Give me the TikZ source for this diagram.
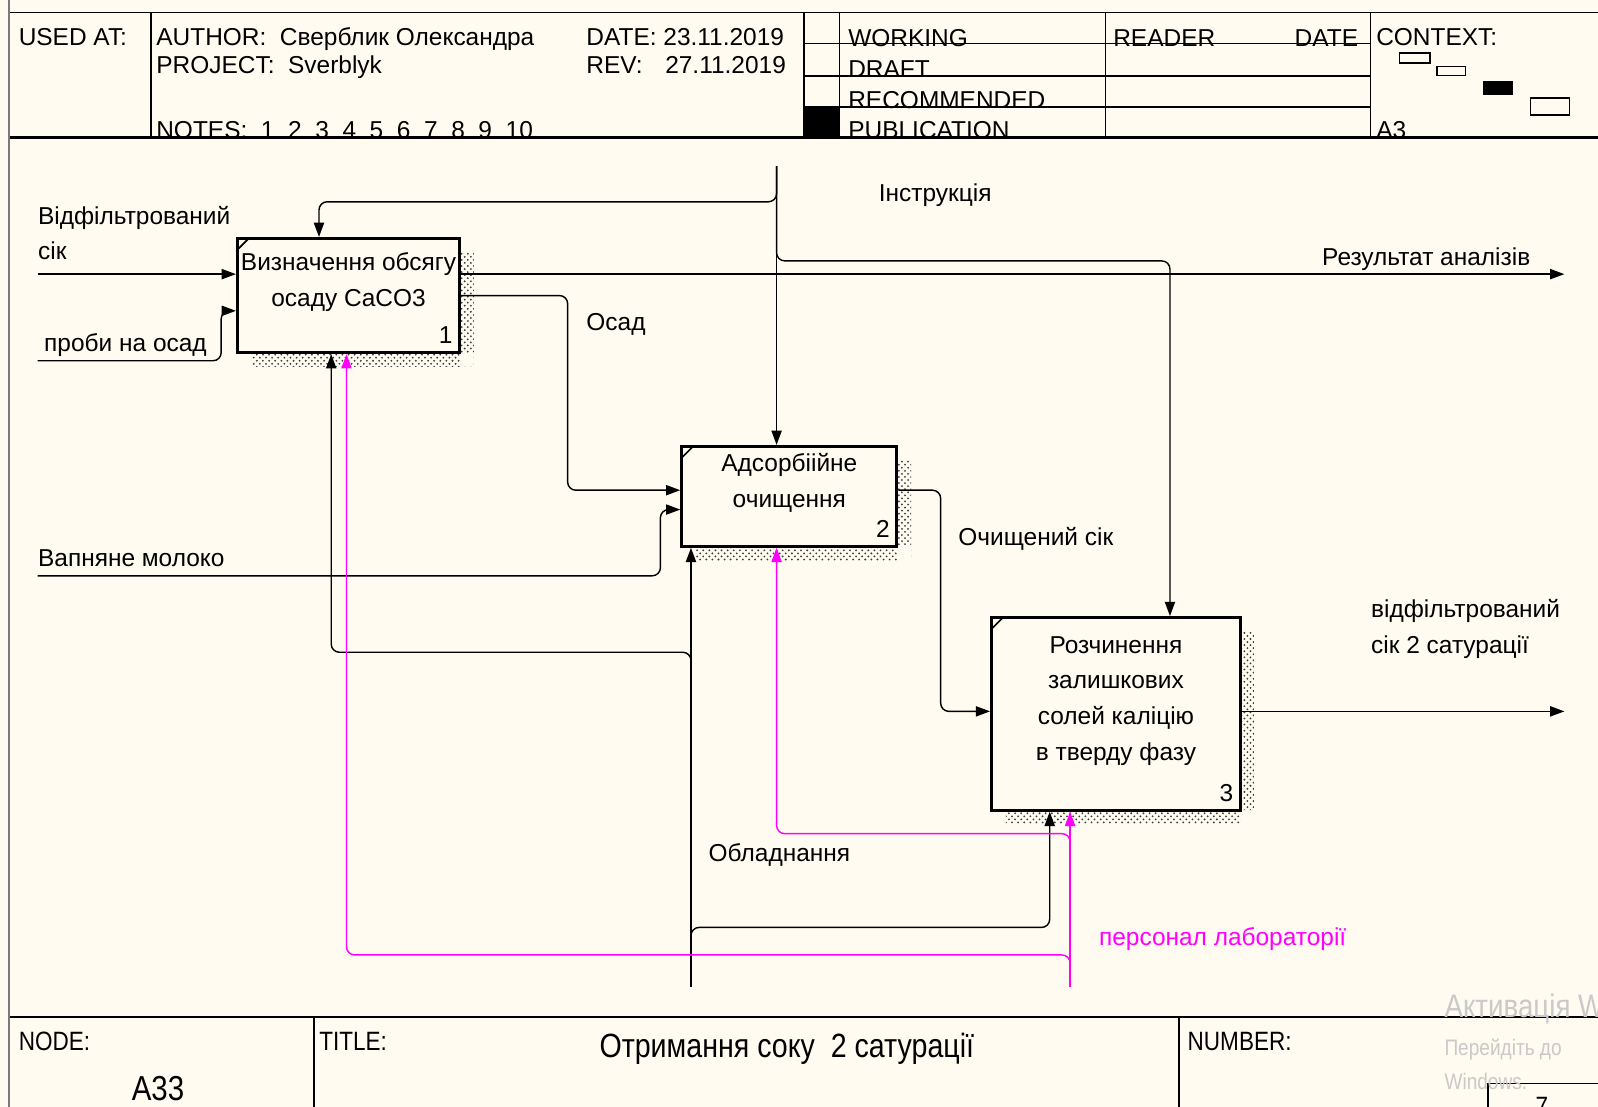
\documentclass[tikz,border=0pt]{standalone}
\usepackage{fontspec}
\setmainfont{Liberation Sans}
\newfontfamily\narrowfont[FakeStretch=0.85]{Liberation Sans}
\usepackage{xcolor}
\definecolor{cPaper}{HTML}{FFFBF0}
\definecolor{cPers}{HTML}{FF00FF}
\definecolor{cShade}{HTML}{3C3C3C}
\definecolor{cFaint}{HTML}{C9C9C9}
\definecolor{cEdge}{HTML}{7A7A7A}
\usetikzlibrary{positioning,arrows.meta,calc,patterns}
\tikzset{
  node-box/.style={draw=black,line width=1.5pt,fill=cPaper,inner sep=0pt},
  node-text/.style={align=center,font=\fontsize{12}{17.5}\selectfont,inner sep=0pt},
  node-num/.style={font=\fontsize{12}{14}\selectfont,anchor=base east,inner sep=0pt},
  lbl/.style={font=\fontsize{12}{17.5}\selectfont,inner sep=0pt,align=left,anchor=base west},
  hdr/.style={font=\fontsize{12}{13.5}\selectfont,inner sep=0pt,anchor=base west},
  ftr/.style={font=\narrowfont\fontsize{13}{15}\selectfont,inner sep=0pt,anchor=base west},
  arrow/.style={-{Triangle[length=7pt,width=5pt]},line width=0.7pt,rounded corners=4pt},
  arrow-pers/.style={arrow,draw=cPers},
  shade/.style={pattern=crosshatch dots,pattern color=cShade},
  frame/.style={line width=0.7pt},
}

\begin{document}
\begin{tikzpicture}[x=0.5pt,y=-0.5pt]
  \useasboundingbox[fill=cPaper] (0,0) rectangle (1568,1086);
  % sheet frame
  \draw[line width=1.2pt,draw=cEdge] (9,0) -- (9,1086);
  \draw[frame] (10,12.5) -- (1568,12.5);
  \draw[line width=1.1pt] (10,135) -- (1568,135);
  \foreach \x in {148,789,824,1085,1345}
    \draw[frame] (\x,12.5) -- (\x,135);
  \foreach \y in {42.5,74.5,105}
    \draw[frame] (789,\y) -- (1345,\y);
  \fill (789,105) rectangle (824,135);
  % header texts
  \node[hdr] (usedat) at (18,45) {USED AT:};
  \node[hdr] (author) at (153,45) {AUTHOR:~~Сверблик Олександра};
  \node[hdr] (project) at (153,72) {PROJECT:~~Sverblyk};
  \node[hdr] (notes) at (153,136) {NOTES:~~1~~2~~3~~4~~5~~6~~7~~8~~9~~10};
  \node[hdr] (date) at (575,45) {DATE: 23.11.2019};
  \node[hdr] (rev) at (575,72) {\makebox[38.7pt][l]{REV:}27.11.2019};
  \node[hdr] (working) at (832,46) {WORKING};
  \node[hdr] (draft) at (832,76) {DRAFT};
  \node[hdr] (recom) at (832,106) {RECOMMENDED};
  \node[hdr] (public) at (832,136) {PUBLICATION};
  \node[hdr] (reader) at (1092,46) {READER};
  \node[hdr,anchor=base east] (rdate) at (1333,46) {DATE};
  \node[hdr] (context) at (1350,45) {CONTEXT:};
  \node[hdr] (sheet) at (1350,136) {A3};
  % context thumbnail
  \draw[frame] (1373,52) rectangle (1403,62);
  \draw[frame] (1410,65) rectangle (1438,74);
  \fill (1455,79) rectangle (1485,93);
  \draw[frame] (1502,96) rectangle (1540,113);

  % activity boxes with shadows
  \fill[shade] (465,248) rectangle (451,360) (247,346) rectangle (465,360);
  \fill[shade] (894,452) rectangle (880,550) (683,536) rectangle (894,550);
  \fill[shade] (1231,620) rectangle (1217,809) (987,795) rectangle (1231,809);
  \node[node-box,minimum width=109pt,minimum height=56pt] (b1) at (342,290) {};
  \node[node-box,minimum width=105.5pt,minimum height=49pt] (b2) at (774.5,487) {};
  \node[node-box,minimum width=122pt,minimum height=94.5pt] (b3) at (1095,700.5) {};
  \foreach \b in {b1,b2,b3}
    \draw[line width=0.8pt] ($(\b.north west)+(1,13)$) -- ++(12,-12);
  \node[node-text] (b1t) at ($(b1.center)+(0,-13)$) {Визначення обсягу\\осаду CaCO3};
  \node[node-text] (b2t) at ($(b2.center)+(0,-13)$) {Адсорбіійне\\очищення};
  \node[node-text] (b3t) at ($(b3.center)+(0,-13)$) {Розчинення\\залишкових\\солей каліцію\\в тверду фазу};
  \node[node-num] (b1n) at ($(b1.south east)+(-8,-10)$) {1};
  \node[node-num] (b2n) at ($(b2.south east)+(-8,-10)$) {2};
  \node[node-num] (b3n) at ($(b3.south east)+(-8,-10)$) {3};

  % free ends and bends
  \coordinate (in1) at (37,269);
  \coordinate (in2) at (37,354);
  \coordinate (in2b) at (217,305);
  \coordinate (lime) at (37,565);
  \coordinate (limeb) at (648,500);
  \coordinate (ins) at (762,163);
  \coordinate (ctl1) at (313,198);
  \coordinate (ctl3) at (1148,256);
  \coordinate (out1) at (1535,269);
  \coordinate (osadb) at (557,481);
  \coordinate (cleanb) at (923,698);
  \coordinate (out2) at (1535,698);
  \coordinate (mech) at (678,968);
  \coordinate (mc1) at (325,640);
  \coordinate (mc3) at (1030,910);
  \coordinate (pers) at (1050,968);
  \coordinate (pc1) at (340,937);
  \coordinate (pc2) at (762,818);

  % inputs and outputs
  \draw[arrow] (in1) -- (in1 -| b1.west);
  \draw[arrow] (in2) -| (in2b) -- (in2b -| b1.west);
  \draw[arrow] (b1.east) -| (osadb) -- (osadb -| b2.west);
  \draw[arrow] (lime) -| (limeb) -- (limeb -| b2.west);
  \draw[arrow] ($(b2.east)+(0,-6)$) -| (cleanb) -- (cleanb -| b3.west);
  \draw[arrow] (out1 -| b1.east) -- (out1);
  \draw[arrow] (cleanb -| b3.east) -- (out2);
  % controls
  \draw[arrow] (ins) -- (ins |- b2.north);
  \draw[arrow] (ins) |- (ctl1) -- (ctl1 |- b1.north);
  \draw[arrow] (ins) |- (ctl3) -- (ctl3 |- b3.north);
  % mechanisms
  \draw[arrow] (mech) -- (mech |- b2.south);
  \draw[arrow] (mech) |- (mc1) -- (mc1 |- b1.south);
  \draw[arrow] (mech) |- (mc3) -- (mc3 |- b3.south);
  \draw[arrow-pers] (pers) -- (pers |- b3.south);
  \draw[arrow-pers] (pers) |- (pc1) -- (pc1 |- b1.south);
  \draw[arrow-pers] (pers) |- (pc2) -- (pc2 |- b2.south);

  % arrow labels
  \node[lbl] (in1l) at (37,255) {Відфільтрований\\сік};
  \node[lbl] (in2l) at (43,345) {проби на осад};
  \node[lbl] (insl) at (862,198) {Інструкція};
  \node[lbl] (out1l) at (1297,261) {Результат аналізів};
  \node[lbl] (osadl) at (575,324) {Осад};
  \node[lbl] (limel) at (37,556) {Вапняне молоко};
  \node[lbl] (cleanl) at (940,535) {Очищений сік};
  \node[lbl] (out2l) at (1345,641) {відфільтрований\\сік 2 сатурації};
  \node[lbl] (mechl) at (695,845) {Обладнання};
  \node[lbl,text=cPers] (persl) at (1078,928) {персонал лабораторії};

  % footer
  \draw[line width=1.1pt] (10,998) -- (1568,998);
  \draw[frame] (308,998) -- (308,1086);
  \draw[frame] (1157,998) -- (1157,1086);
  \node[ftr] (nodel) at (18,1031) {NODE:};
  \node[ftr,font=\narrowfont\fontsize{17}{19}\selectfont,anchor=base] (nodeid) at (155,1080) {A33};
  \node[ftr] (titlel) at (313,1031) {TITLE:};
  \node[ftr,font=\narrowfont\fontsize{16.5}{18}\selectfont,anchor=base] (title) at (772,1038) {Отримання соку~~2 сатурації};
  \node[ftr] (numberl) at (1165,1031) {NUMBER:};
  \draw[frame] (1460,1063) rectangle (1580,1100);
  \node[ftr,anchor=base] (numberv) at (1513,1095) {7};
  % screen overlay text
  \node[ftr,text=cFaint,font=\narrowfont\fontsize{16}{18}\selectfont] (wm1) at (1417,998) {Активація Windows};
  \node[ftr,text=cFaint,font=\narrowfont\fontsize{11}{13}\selectfont] (wm2) at (1417,1036) {Перейдіть до};
  \node[ftr,text=cFaint,font=\narrowfont\fontsize{11}{13}\selectfont] (wm3) at (1417,1069) {Windows.};
\end{tikzpicture}
\end{document}
